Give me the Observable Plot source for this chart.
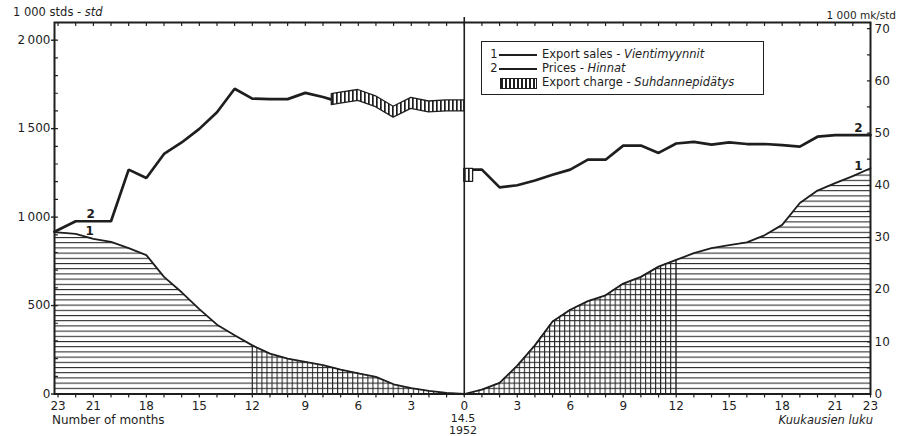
<!DOCTYPE html>
<html><head><meta charset="utf-8">
<script src="https://cdn.jsdelivr.net/npm/d3@7"></script>
<script src="https://cdn.jsdelivr.net/npm/@observablehq/plot@0.6"></script>
<style>
body{margin:0;background:#fff;}
#wrap{position:relative;width:897px;height:436px;font-family:"DejaVu Sans",sans-serif;color:#1e1e1e;overflow:hidden;}
#wrap svg{display:block;position:absolute;left:0;top:0;}
.lbl{position:absolute;white-space:nowrap;line-height:1;transform:translateY(-50%);}
.r{transform:translate(-100%,-50%);}
.c{transform:translate(-50%,-50%);}
</style></head><body><div id="wrap"></div>
<script>
// ---- data ----
// months before 14.5.1952 (left panel) and after (right panel)
const salesMonthsBefore = [23.2,22,21,20,19,18,17,16,15,14,13,12,11,10,9,8,7,6,5,4,3,2,1,0];
const salesBefore = [915,905,877,860,825,785,662,575,480,392,332,275,228,200,182,163,138,117,97,55,33,18,6,0]; // 1 000 stds
const salesMonthsAfter = [0,1,2,3,4,5,6,7,8,9,10,11,12,13,14,15,16,17,18,19,20,21,22,23];
const salesAfter = [0,25,63,160,275,410,476,525,558,624,662,720,758,796,824,842,857,897,956,1080,1150,1192,1232,1276];
const priceMonthsBefore = [23.2,22,20,19,18,17,16,15,14,13,12,11,10,9,8,7.5];
const priceBefore = [31.1,33.1,33.1,43.0,41.4,46.0,48.2,50.8,54.0,58.5,56.6,56.5,56.5,57.7,56.9,56.4]; // 1 000 mk/std
const chargeMonthsBefore = [7.5,7,6,5,4,3,2,1,0];
const chargeBefore = [56.4,56.7,57.2,56.0,54.0,55.7,55.0,55.2,55.2];
const priceMonthsAfter = [0.5,1,2,3,4,5,6,7,8,9,10,11,12,13,14,15,16,17,18,19,20,21,22,23];
const priceAfter = [43.0,43.0,39.6,40.0,40.9,42.0,43.0,44.9,44.9,47.6,47.6,46.2,48.0,48.3,47.8,48.2,47.9,47.9,47.7,47.4,49.3,49.6,49.6,49.6];
const chargeMonthsAfter = [0,0.5];
const chargeAfter = [41.9,41.9];
const xTickLabels = [-23,-21,-18,-15,-12,-9,-6,-3,0,3,6,9,12,15,18,21,23];
const leftTicks = [0,500,1000,1500,2000];
const rightTicks = [0,10,20,30,40,50,60,70];
const gridLimit = 12;

// ---- build ----
const k = 29.5;          // 1 000 mk/std -> left-axis units
const halfBandL = 1.05, halfBandR = 1.25;
const ink = "#1e1e1e";

const sales = salesMonthsBefore.map((m,i)=>({x:-m, v:salesBefore[i]}))
  .concat(salesMonthsAfter.map((m,i)=>({x:m, v:salesAfter[i]})));
const pb = priceMonthsBefore.map((m,i)=>({x:-m, v:priceBefore[i]*k}));
const pa = priceMonthsAfter.map((m,i)=>({x:m, v:priceAfter[i]*k}));
const cb = chargeMonthsBefore.map((m,i)=>({x:-m, p:chargeBefore[i], h:halfBandL}));
const ca = chargeMonthsAfter.map((m,i)=>({x:m, p:chargeAfter[i], h:halfBandR}));
const gridL = sales.filter(d=>d.x<=0 && d.x>=-gridLimit);
const gridR = sales.filter(d=>d.x>=0 && d.x<=gridLimit);
const gridEdges = sales.filter(d=>Math.abs(d.x)===gridLimit);

const tickShape = {draw(ctx, l){ ctx.moveTo(0,0); ctx.lineTo(0,-l); }};
const allMonths = d3.range(-23,24);

const svg = Plot.plot({
  width: 897, height: 436,
  marginLeft: 54, marginRight: 27, marginTop: 22, marginBottom: 42.5,
  style: {fontFamily: "DejaVu Sans, sans-serif", fontSize: "12px", color: ink, background: "white"},
  x: {domain: [-23.2, 23]},
  y: {domain: [0, 2100]},
  marks: [
    Plot.areaY(sales, {x:"x", y:"v", fill:"url(#hatchH)", curve:"linear"}),
    Plot.areaY(gridL, {x:"x", y:"v", fill:"url(#hatchG)"}),
    Plot.areaY(gridR, {x:"x", y:"v", fill:"url(#hatchG)"}),
    Plot.ruleX(gridEdges, {x:"x", y1:0, y2:"v", stroke: ink, strokeWidth: 1}),
    Plot.line(sales, {x:"x", y:"v", stroke: ink, strokeWidth: 1.8}),
    Plot.line(pb, {x:"x", y:"v", stroke: ink, strokeWidth: 2.7, strokeLinejoin:"miter"}),
    Plot.line(pa, {x:"x", y:"v", stroke: ink, strokeWidth: 2.7, strokeLinejoin:"miter"}),
    Plot.areaY(cb, {x:"x", y1: d=>(d.p-d.h)*k, y2: d=>(d.p+d.h)*k, fill:"url(#stripes)", stroke: ink, strokeWidth: 1.3}),
    Plot.areaY(ca, {x:"x", y1: d=>(d.p-d.h)*k, y2: d=>(d.p+d.h)*k, fill:"url(#stripes)", stroke: ink, strokeWidth: 1.3}),
    Plot.ruleX([0], {stroke: ink, strokeWidth: 1.6, insetTop: -5, insetBottom: -2}),
    Plot.frame({stroke: ink, strokeWidth: 2}),
    // series labels
    Plot.text([pb[1]], {x:"x", y:"v", text: ()=>"2", dx: 15, dy: -7, fontSize: 12, fontWeight: "bold", fill: ink}),
    Plot.text([sales[1]], {x:"x", y:"v", text: ()=>"1", dx: 14, dy: -3, fontSize: 12, fontWeight: "bold", fill: ink}),
    Plot.text([pa[pa.length-1]], {x:"x", y:"v", text: ()=>"2", dx: -12, dy: -7, fontSize: 12, fontWeight: "bold", fill: ink}),
    Plot.text([sales[sales.length-1]], {x:"x", y:"v", text: ()=>"1", dx: -12, dy: -2, fontSize: 12, fontWeight: "bold", fill: ink}),
    // axes
    Plot.axisY(leftTicks, {anchor:"left", tickSize: 3, tickPadding: 1, strokeWidth: 1.4, fontSize: 12,
      tickFormat: d => d >= 1000 ? Math.floor(d/1000) + "\u2009" + String(d%1000).padStart(3,"0") : String(d), label: null}),
    Plot.vector(d3.range(0,2101,100), {y: d=>d, frameAnchor:"left", rotate: 90, length: 3, anchor:"start", shape: tickShape, stroke: ink, strokeWidth: 1.2}),
    Plot.axisY(rightTicks.map(v=>v*k), {anchor:"right", tickSize: 0, tickPadding: 4, fontSize: 12, dy: 0,
      tickFormat: d => String(Math.round(d/k)), label: null}),
    Plot.vector(d3.range(0,71,5).map(v=>v*k), {y: d=>d, frameAnchor:"right", rotate: -90, length: 3, anchor:"start", shape: tickShape, stroke: ink, strokeWidth: 1.2}),
    Plot.axisX(xTickLabels, {anchor:"bottom", tickSize: 0, tickPadding: 7, fontSize: 12, tickFormat: d => String(Math.abs(d)), label: null}),
    Plot.vector(allMonths, {x: d=>d, frameAnchor:"bottom", rotate: 180, length: 3, anchor:"start", shape: tickShape, stroke: ink, strokeWidth: 1.2}),
    Plot.vector(allMonths, {x: d=>d, frameAnchor:"top", rotate: 180, length: 3, anchor:"start", shape: tickShape, stroke: ink, strokeWidth: 1.2})
  ]
});

// patterns aligned with the scales
const xs = svg.scale("x"), ys = svg.scale("y");
const y0 = ys.apply(0), x0 = xs.apply(0);
const cellW = (xs.apply(gridLimit) - x0) / 42;
const cellH = 5.2;
const hatchInk = "#222";
const defs = d3.select(svg).insert("defs", ":first-child");
const ph = defs.append("pattern").attr("id","hatchH").attr("patternUnits","userSpaceOnUse")
  .attr("width", 8).attr("height", cellH).attr("patternTransform", `translate(0,${y0 - 0.5})`);
ph.append("rect").attr("x",0).attr("y",0).attr("width",8).attr("height",1.05).attr("fill",hatchInk);
const pg = defs.append("pattern").attr("id","hatchG").attr("patternUnits","userSpaceOnUse")
  .attr("width", cellW).attr("height", cellH).attr("patternTransform", `translate(${x0 - 0.5},${y0 - 0.5})`);
pg.append("rect").attr("x",0).attr("y",0).attr("width",cellW).attr("height",cellH).attr("fill","white");
pg.append("rect").attr("x",0).attr("y",0).attr("width",cellW).attr("height",1.05).attr("fill",hatchInk);
pg.append("rect").attr("x",0).attr("y",0).attr("width",1.05).attr("height",cellH).attr("fill",hatchInk);
const ps = defs.append("pattern").attr("id","stripes").attr("patternUnits","userSpaceOnUse")
  .attr("width", 4).attr("height", 10);
ps.append("rect").attr("x",0).attr("y",0).attr("width",4).attr("height",10).attr("fill","white");
ps.append("rect").attr("x",0).attr("y",0).attr("width",1.7).attr("height",10).attr("fill",ink);

const wrap = document.getElementById("wrap");
wrap.appendChild(svg);

// labels and legend (HTML)
const html = `
<div class="lbl" style="left:13px;top:13px;font-size:11.5px">1 000 stds - <i>std</i></div>
<div class="lbl r" style="left:896px;top:14.5px;font-size:10.5px">1 000 mk/std</div>
<div class="lbl" style="left:52px;top:420px;font-size:12px">Number of months</div>
<div class="lbl c" style="left:463px;top:417.5px;font-size:11px">14.5</div>
<div class="lbl c" style="left:463px;top:430px;font-size:11px">1952</div>
<div class="lbl r" style="left:873px;top:421px;font-size:11.5px"><i>Kuukausien luku</i></div>
<div style="position:absolute;left:481px;top:41px;width:283px;height:54px;border:1.5px solid ${ink};box-sizing:border-box;background:white"></div>
<div class="lbl c" style="left:494px;top:55px;font-size:11.5px">1</div>
<div style="position:absolute;left:499px;top:54.4px;width:38px;height:1.3px;background:${ink}"></div>
<div class="lbl" style="left:542px;top:55px;font-size:11.5px">Export sales - <i>Vientimyynnit</i></div>
<div class="lbl c" style="left:494px;top:69px;font-size:11.5px">2</div>
<div style="position:absolute;left:499px;top:67.8px;width:38px;height:2.5px;background:${ink}"></div>
<div class="lbl" style="left:542px;top:69px;font-size:11.5px">Prices - <i>Hinnat</i></div>
<div style="position:absolute;left:500px;top:77.5px;width:37px;height:11px;box-sizing:border-box;border:1.2px solid ${ink};background:repeating-linear-gradient(90deg, ${ink} 0 1.6px, #fff 1.6px 4px)"></div>
<div class="lbl" style="left:542px;top:83px;font-size:11.5px">Export charge - <i>Suhdannepidätys</i></div>
`;
wrap.insertAdjacentHTML("beforeend", html);
</script>
</body></html>
